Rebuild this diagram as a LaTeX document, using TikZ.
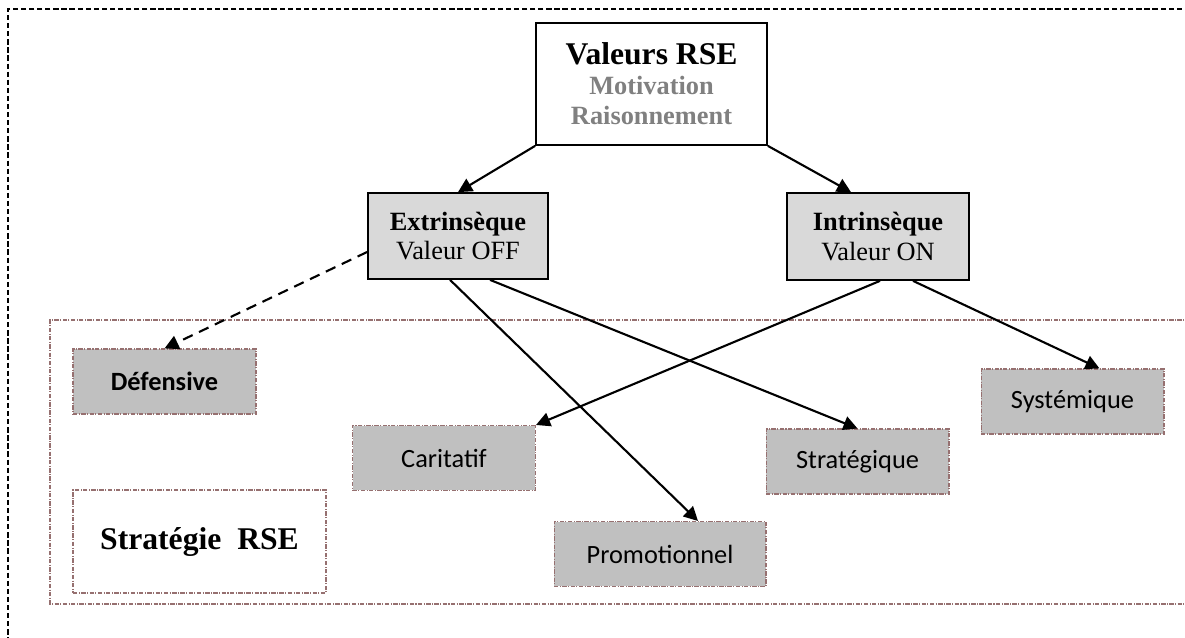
\documentclass[tikz,border=0pt]{standalone}
\usepackage{fontspec}
\setmainfont{Liberation Serif}
\newfontfamily\calibri{Carlito}
\usepackage{tikz}
\usetikzlibrary{shapes,arrows.meta,positioning,calc}
\usepackage{xcolor}
\definecolor{cadre}{RGB}{150,112,112}
\definecolor{grisclair}{RGB}{217,217,217}
\definecolor{grisfonce}{RGB}{192,192,192}

\begin{document}
\begin{tikzpicture}[x=0.02cm, y=-0.02cm]
    % Styles
    \tikzstyle{valbox}=[draw, line width=1pt, fill=grisclair, align=center, font=\fontsize{15}{17}\selectfont]
    \tikzstyle{stratbox}=[draw=cadre, fill=grisfonce, line width=0.6pt, dash pattern=on 2.5pt off 0.8pt on 0.6pt off 0.8pt, font=\calibri\fontsize{15}{16}\selectfont, minimum width=3.66cm, minimum height=1.3cm]
    \tikzstyle{fleche}=[line width=1.2pt, -{Triangle[length=8pt,width=8pt]}]
    \useasboundingbox (0,0) rectangle (1185,638);

    % Cadre general
    \draw[line width=0.9pt, dash pattern=on 3pt off 1.6pt] (1190,9) -- (8,9) -- (8,645);

    % Zone des strategies
    \draw[cadre, line width=0.6pt, dash pattern=on 2.5pt off 0.8pt on 0.6pt off 0.8pt] (1190,320) -| (50,604) -- (1190,604);

    % Valeurs RSE
    \node[draw, line width=1pt, fill=white, minimum width=4.62cm, minimum height=2.44cm, align=center, font=\bfseries\fontsize{15}{17}\selectfont] (valeurs) at (651.5,84)
        {{\fontsize{18}{18}\selectfont Valeurs RSE}\\
         \textcolor{gray}{Motivation}\\
         \textcolor{gray}{Raisonnement}};

    % Motivations
    \node[valbox, minimum width=3.6cm, minimum height=1.72cm] (extr) at (458,236) {\textbf{Extrinsèque}\\Valeur OFF};
    \node[valbox, minimum width=3.64cm, minimum height=1.74cm] (intr) at (878,236.5) {\textbf{Intrinsèque}\\Valeur ON};

    % Strategies
    \node[stratbox] (defensive) at (164.5,381.5) {\bfseries Défensive};
    \node[stratbox] (caritatif) at (444,458) {Caritatif};
    \node[stratbox, minimum width=4.24cm] (promo) at (660,554) {Promotionnel};
    \node[stratbox] (strategique) at (857.5,461.5) {Stratégique};
    \node[stratbox] (systemique) at (1072.5,401.5) {Systémique};
    \node[draw=cadre, line width=0.6pt, dash pattern=on 2.5pt off 0.8pt on 0.6pt off 0.8pt, minimum width=5.06cm, minimum height=2.06cm, font=\fontsize{18}{21}\selectfont\bfseries] (strategie) at (199.5,541.5) {Stratégie\ \ RSE};

    % Fleches
    \draw[fleche] (valeurs.south west) -- (extr.north);
    \draw[fleche] (valeurs.south east) -- ($(intr.north)+(-27,0)$);
    \draw[fleche, dash pattern=on 6pt off 4pt] ($(extr.west)+(0,16)$) -- (defensive.north);
    \draw[fleche] ($(extr.south)+(-8,0)$) -- ($(promo.north)+(38,0)$);
    \draw[fleche] ($(extr.south)+(32,0)$) -- (strategique.north);
    \draw[fleche] ($(intr.south)+(2,0)$) -- (caritatif.north east);
    \draw[fleche] ($(intr.south)+(35,0)$) -- ($(systemique.north)+(27,0)$);
\end{tikzpicture}
\end{document}
